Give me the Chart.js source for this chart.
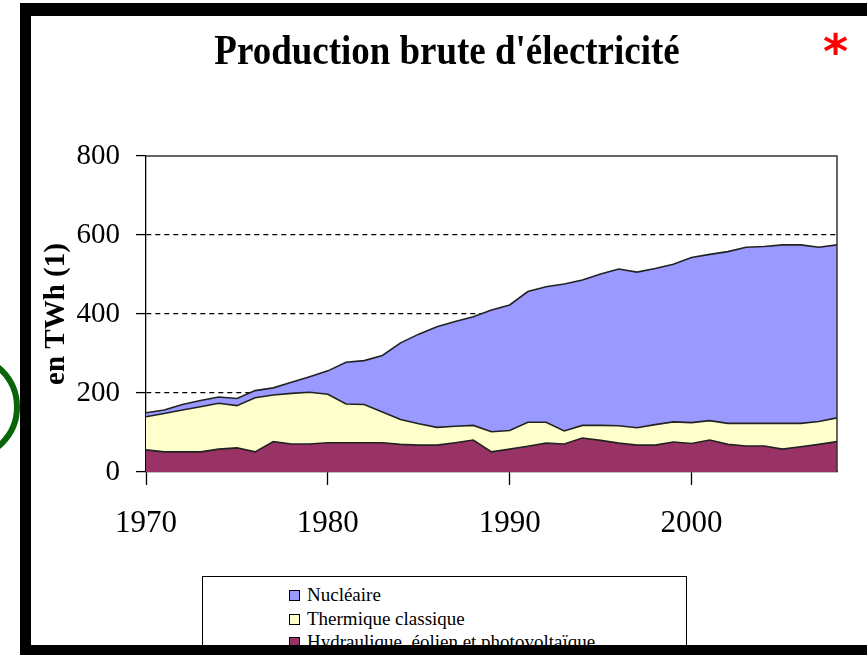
<!DOCTYPE html>
<html>
<head>
<meta charset="utf-8">
<script src="https://cdn.jsdelivr.net/npm/chart.js@4.4.1/dist/chart.umd.min.js"></script>
<style>
  html, body { margin: 0; padding: 0; background: #fff; }
  #wrap { position: relative; width: 867px; height: 655px; overflow: hidden; }
  #c { position: absolute; left: 0; top: 0; }
  .bar { position: absolute; background: #000; }
  #star { position: absolute; left: 823px; top: 27px; font-family: "DejaVu Sans"; font-weight: bold; font-size: 48px; line-height: 48px; color: #ff0000; }
  #legend { position: absolute; left: 202px; top: 576px; width: 485px; height: 90px; border: 1px solid #000; background: #fff;
            font-family: "Liberation Serif", serif; font-size: 19px; color: #000; padding-top: 6px; box-sizing: border-box; }
  .item { position: relative; height: 23.5px; line-height: 23.5px; padding-left: 104px; white-space: nowrap; }
  .sw { position: absolute; left: 86px; top: 7px; width: 9px; height: 9px; border: 1px solid #000; }
</style>
</head>
<body>
<div id="wrap">
  <canvas id="c" width="867" height="655"></canvas>
  <svg width="867" height="655" style="position:absolute;left:0;top:0">
    <circle cx="-34" cy="407" r="51" fill="none" stroke="#0a650a" stroke-width="6"/>
  </svg>
  <div id="legend"></div>
  <div class="bar" style="left:20px;top:3px;width:847px;height:13px"></div>
  <div class="bar" style="left:20px;top:3px;width:11px;height:652px"></div>
  <div class="bar" style="left:20px;top:645px;width:847px;height:10px"></div>
  <div id="star">*</div>
</div>
<script>
const years = [1970,1971,1972,1973,1974,1975,1976,1977,1978,1979,
               1980,1981,1982,1983,1984,1985,1986,1987,1988,1989,
               1990,1991,1992,1993,1994,1995,1996,1997,1998,1999,
               2000,2001,2002,2003,2004,2005,2006,2007,2008];

// TWh
const hydro = [56,51,51,51,58,61,51,77,71,71,
               74,74,74,74,70,68,68,74,81,51,
               58,65,73,71,86,80,73,68,68,76,
               72,81,70,66,66,58,64,70,77];
const thermique = [84,97,106,114,116,107,137,118,128,131,
                   123,98,97,78,63,54,45,42,37,51,
                   47,61,53,33,32,38,44,44,52,51,
                   53,49,53,57,57,65,59,58,60];
const nucleaire = [10,9,14,16,16,18,18,18,28,39,
                   59,106,111,143,194,227,255,265,275,308,
                   318,331,343,372,368,383,397,394,395,399,
                   418,421,435,446,448,452,452,441,438];

const yTicks = [0, 200, 400, 600, 800];
const xTicks = [1970, 1980, 1990, 2000];

const series = [
  { label: 'Hydraulique, éolien et photovoltaïque', data: hydro, color: '#993366', fill: 'origin' },
  { label: 'Thermique classique', data: thermique, color: '#ffffcc', fill: '-1' },
  { label: 'Nucléaire', data: nucleaire, color: '#9999ff', fill: '-1' }
];

// legend in the boxed area, top to bottom
const legend = document.getElementById('legend');
series.slice().reverse().forEach(s => {
  const row = document.createElement('div');
  row.className = 'item';
  row.innerHTML = '<span class="sw" style="background:' + s.color + '"></span>' + s.label;
  legend.appendChild(row);
});

const frameAndTitle = {
  id: 'frameAndTitle',
  afterDatasetsDraw(chart){
    const a = chart.chartArea, ctx = chart.ctx;
    ctx.save();
    ctx.strokeStyle = '#333';
    ctx.lineWidth = 1.5;
    ctx.beginPath();
    ctx.moveTo(a.left, a.top);
    ctx.lineTo(a.right, a.top);
    ctx.lineTo(a.right, a.bottom);
    ctx.stroke();
    ctx.restore();
  },
  afterDraw(chart){
    const ctx = chart.ctx;
    ctx.save();
    // the original title is a little condensed
    ctx.translate(447, 64);
    ctx.scale(0.88, 1);
    ctx.font = 'bold 42px "Liberation Serif"';
    ctx.fillStyle = '#000';
    ctx.textAlign = 'center';
    ctx.textBaseline = 'alphabetic';
    ctx.fillText("Production brute d'électricité", 0, 0);
    ctx.restore();
  }
};

new Chart(document.getElementById('c'), {
  type: 'line',
  data: {
    datasets: series.map(s => ({
      label: s.label,
      data: years.map((y, i) => ({ x: y, y: s.data[i] })),
      backgroundColor: s.color,
      borderColor: '#222',
      borderWidth: 1.6,
      fill: s.fill,
      pointRadius: 0,
      tension: 0
    }))
  },
  options: {
    responsive: false,
    animation: false,
    layout: { padding: { top: 156, right: 30, left: 0, bottom: 0 } },
    plugins: { legend: { display: false }, tooltip: { enabled: false } },
    scales: {
      x: {
        type: 'linear',
        min: 1970, max: 2008,
        afterFit(s){ s.height = 183; },
        afterBuildTicks(s){ s.ticks = xTicks.map(v => ({ value: v })); },
        ticks: { color: '#000', font: { family: 'Liberation Serif', size: 31 }, padding: 20, maxRotation: 0,
                 callback: v => String(v) },
        grid: { drawOnChartArea: false, tickLength: 13, tickColor: '#000', tickWidth: 1.3 },
        border: { color: '#000', width: 1.3 }
      },
      y: {
        stacked: true,
        min: 0, max: 800,
        afterFit(s){ s.width = 146; },
        afterBuildTicks(s){ s.ticks = yTicks.map(v => ({ value: v })); },
        ticks: { color: '#000', font: { family: 'Liberation Serif', size: 29 }, padding: 16 },
        grid: {
          color: c => (c.tick && (c.tick.value === 0 || c.tick.value === 800)) ? 'rgba(0,0,0,0)' : '#000',
          lineWidth: 1.2,
          tickLength: 10, tickColor: '#000', tickWidth: 1.3, tickBorderDash: []
        },
        border: { color: '#000', width: 1.3, dash: [5, 4] },
        title: { display: true, text: 'en TWh (1)', color: '#000',
                 font: { family: 'Liberation Serif', size: 29, weight: 'bold' }, padding: { top: 39, bottom: 0 } }
      }
    }
  },
  plugins: [frameAndTitle]
});
</script>
</body>
</html>
